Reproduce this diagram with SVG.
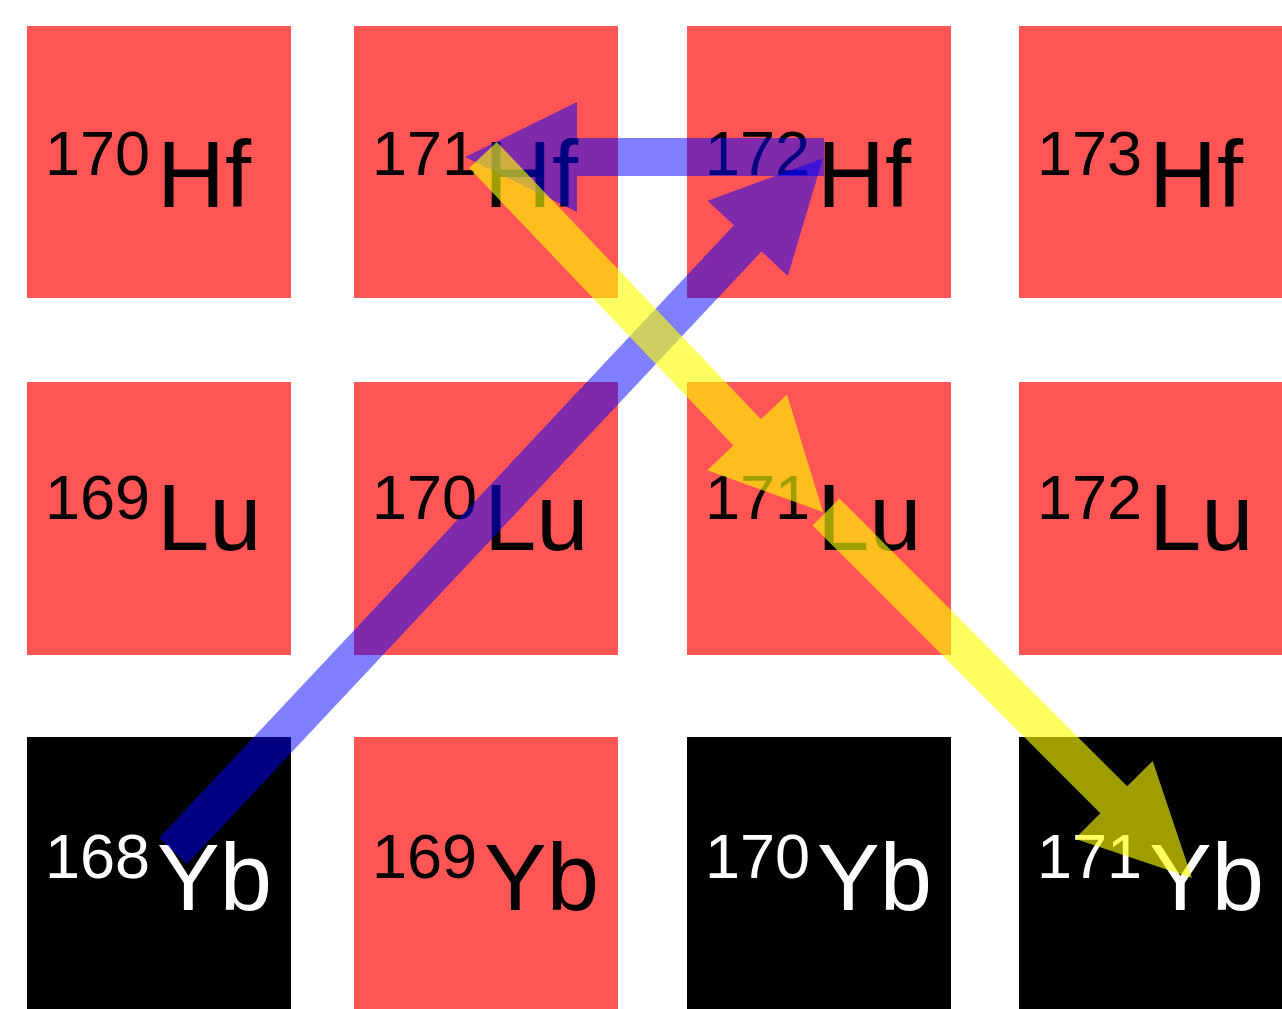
<svg xmlns="http://www.w3.org/2000/svg" width="1282" height="1009" viewBox="0 0 1282 1009">
<style>
.red{fill:#FF5555}
.blk{fill:#000000}
text{font-family:"Liberation Sans",Arial,sans-serif}
.dk{fill:#000000}
.wt{fill:#FFFFFF}
.sup{font-size:63px}
.main{font-size:94px}
.blue{fill:#0000FF;fill-opacity:0.5}
.yel{fill:#FFFF00;fill-opacity:0.62}
</style>
<rect width="1282" height="1009" fill="#FFFFFF"/>
<g id="n-170Hf"><rect class="red" x="27" y="26" width="264" height="272"/><text class="dk"><tspan class="sup" x="45" y="175">170</tspan><tspan class="main" x="157" y="207">Hf</tspan></text></g>
<g id="n-171Hf"><rect class="red" x="354" y="26" width="264" height="272"/><text class="dk"><tspan class="sup" x="372" y="175">171</tspan><tspan class="main" x="484" y="207">Hf</tspan></text></g>
<g id="n-172Hf"><rect class="red" x="687" y="26" width="264" height="272"/><text class="dk"><tspan class="sup" x="705" y="175">172</tspan><tspan class="main" x="817" y="207">Hf</tspan></text></g>
<g id="n-173Hf"><rect class="red" x="1019" y="26" width="264" height="272"/><text class="dk"><tspan class="sup" x="1037" y="175">173</tspan><tspan class="main" x="1149" y="207">Hf</tspan></text></g>
<g id="n-169Lu"><rect class="red" x="27" y="382" width="264" height="273"/><text class="dk"><tspan class="sup" x="45" y="519">169</tspan><tspan class="main" x="157" y="550">Lu</tspan></text></g>
<g id="n-170Lu"><rect class="red" x="354" y="382" width="264" height="273"/><text class="dk"><tspan class="sup" x="372" y="519">170</tspan><tspan class="main" x="484" y="550">Lu</tspan></text></g>
<g id="n-171Lu"><rect class="red" x="687" y="382" width="264" height="273"/><text class="dk"><tspan class="sup" x="705" y="519">171</tspan><tspan class="main" x="817" y="550">Lu</tspan></text></g>
<g id="n-172Lu"><rect class="red" x="1019" y="382" width="264" height="273"/><text class="dk"><tspan class="sup" x="1037" y="519">172</tspan><tspan class="main" x="1149" y="550">Lu</tspan></text></g>
<g id="n-168Yb"><rect class="blk" x="27" y="737" width="264" height="272"/><text class="wt"><tspan class="sup" x="45" y="878">168</tspan><tspan class="main" x="157" y="910">Yb</tspan></text></g>
<g id="n-169Yb"><rect class="red" x="354" y="737" width="264" height="272"/><text class="dk"><tspan class="sup" x="372" y="878">169</tspan><tspan class="main" x="484" y="910">Yb</tspan></text></g>
<g id="n-170Yb"><rect class="blk" x="687" y="737" width="264" height="272"/><text class="wt"><tspan class="sup" x="705" y="878">170</tspan><tspan class="main" x="817" y="910">Yb</tspan></text></g>
<g id="n-171Yb"><rect class="blk" x="1019" y="737" width="264" height="272"/><text class="wt"><tspan class="sup" x="1037" y="878">171</tspan><tspan class="main" x="1149" y="910">Yb</tspan></text></g>
<g id="connectors">
<g transform="translate(173,851) rotate(-46.83)"><polygon class="blue" points="0,-19 840,-19 840,-55 950,0 840,55 840,19 0,19"/></g>
<g transform="translate(824,157) rotate(180)"><polygon class="blue" points="0,-19 247,-19 247,-55 359,0 247,55 247,19 0,19"/></g>
<g transform="translate(483,155) rotate(46.4)"><polygon class="yel" points="0,-19 383,-19 383,-55 493,0 383,55 383,19 0,19"/></g>
<g transform="translate(826,512) rotate(45)"><polygon class="yel" points="0,-19 407,-19 407,-55 517.6,0 407,55 407,19 0,19"/></g>
</g>
</svg>
